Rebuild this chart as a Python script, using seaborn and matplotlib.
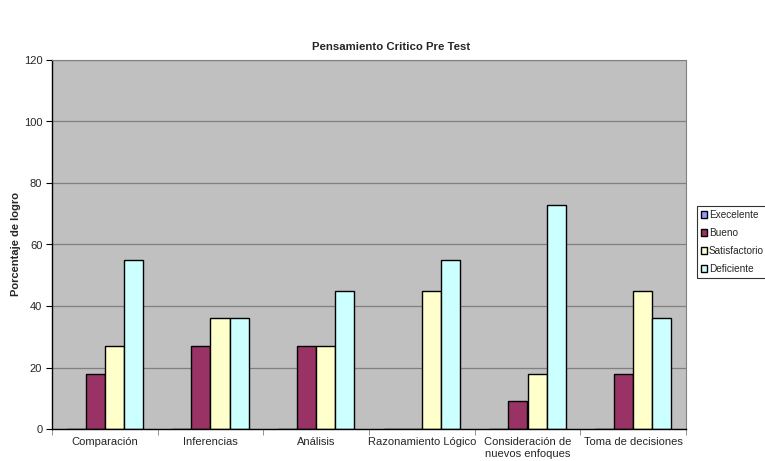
import matplotlib
matplotlib.use("Agg")
import matplotlib.pyplot as plt
import seaborn as sns
import pandas as pd
import numpy as np

categories = ["Comparación", "Inferencias", "Análisis", "Razonamiento Lógico",
              "Consideración de\nnuevos enfoques", "Toma de decisiones"]
series = ["Execelente", "Bueno", "Satisfactorio", "Deficiente"]
execelente = [0, 0, 0, 0, 0, 0]
bueno = [18, 27, 27, 0, 9, 18]
satisfactorio = [27, 36, 27, 45, 18, 45]
deficiente = [55, 36, 45, 55, 73, 36]
colors = ["#9999FF", "#993366", "#FFFFCC", "#CCFFFF"]

rows = []
for s, vals in zip(series, [execelente, bueno, satisfactorio, deficiente]):
    for c, v in zip(categories, vals):
        rows.append({"cat": c, "serie": s, "val": v})
df = pd.DataFrame(rows)

sns.set_style("white")
plt.rcParams['font.family'] = ['Liberation Sans', 'DejaVu Sans']

fig = plt.figure(figsize=(7.65, 4.61), dpi=100)
ax = fig.add_axes([52/765, 1 - 429/461, 634/765, 369/461])
ax.set_facecolor("#C0C0C0")

sns.barplot(data=df, x="cat", y="val", hue="serie", palette=colors,
            order=categories, hue_order=series, width=0.72,
            edgecolor="black", linewidth=1.0, ax=ax, saturation=1)

ax.set_ylim(0, 120)
ax.set_xlim(-0.5, len(categories) - 0.5)
ax.set_yticks(np.arange(0, 121, 20))
ax.yaxis.grid(True, color="#808080", linewidth=0.9)
ax.set_axisbelow(True)
ax.tick_params(axis="y", labelsize=8, length=4, direction="out", left=True, color="black", pad=3)
ax.tick_params(axis="x", labelsize=8, length=0, pad=6)
ax.set_xticks(np.arange(-0.5, len(categories) - 0.4, 1), minor=True)
ax.tick_params(axis="x", which="minor", length=4, direction="out", bottom=True, color="#808080")
for side in ["top", "right"]:
    ax.spines[side].set_color("#808080")
    ax.spines[side].set_linewidth(0.8)
ax.spines["left"].set_color("black")
ax.spines["bottom"].set_color("black")
ax.spines["left"].set_linewidth(1.0)
ax.spines["bottom"].set_linewidth(1.0)

ax.set_xlabel("")
ax.set_ylabel("Porcentaje de logro", fontsize=8, fontweight="bold", labelpad=2)
fig.text(391/765, 1 - 47/461, "Pensamiento Critico Pre Test",
         ha="center", va="center", fontsize=8.2, fontweight="bold")

handles, labels = ax.get_legend_handles_labels()
leg = ax.legend(handles, labels, loc="center left", bbox_to_anchor=(697/765, 1 - 242/461),
                bbox_transform=fig.transFigure, fontsize=7.2, frameon=True, fancybox=False,
                edgecolor="black", handlelength=0.6, handleheight=0.6, handletextpad=0.2,
                borderpad=0.4, labelspacing=0.8, borderaxespad=0)
leg.get_frame().set_linewidth(0.8)

fig.savefig("out.png", dpi=100)
